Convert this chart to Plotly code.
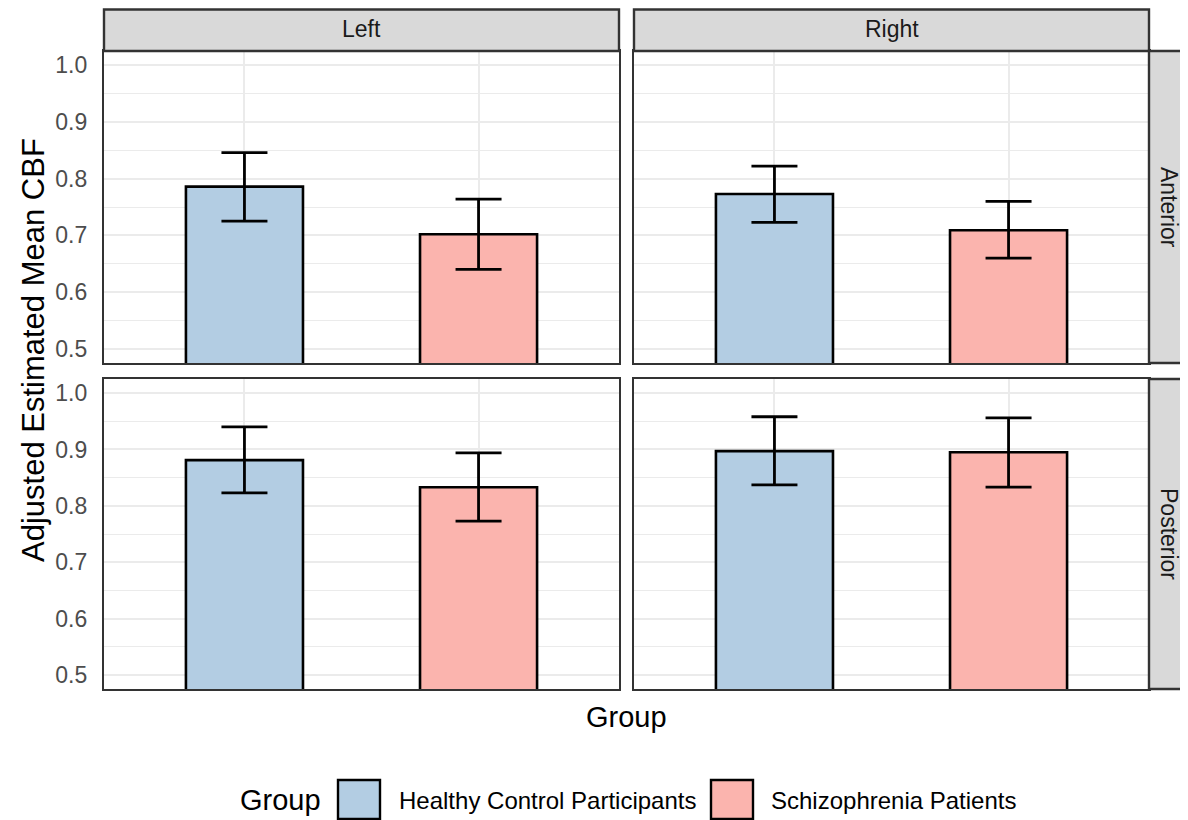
import plotly.graph_objects as go

# ---- data ----
groups = ["Healthy Control Participants", "Schizophrenia Patients"]
hemispheres = ["Left", "Right"]
regions = ["Anterior", "Posterior"]
# panel order: Anterior-Left, Anterior-Right, Posterior-Left, Posterior-Right
hc_mean = [0.786, 0.773, 0.881, 0.897]
hc_lower = [0.725, 0.723, 0.823, 0.837]
hc_upper = [0.846, 0.822, 0.940, 0.958]
sz_mean = [0.702, 0.709, 0.833, 0.895]
sz_lower = [0.640, 0.660, 0.773, 0.833]
sz_upper = [0.764, 0.760, 0.894, 0.956]

colors = ["#B3CDE3", "#FBB4AE"]

# page body has an 8px margin; build the figure in page coordinates shifted by it
OFF = 8
W, H = 1188 - OFF, 820 - OFF
FONT = "Liberation Sans, Arial, Helvetica, sans-serif"


def px(x):
    return (x - OFF) / W


def py(y):
    return 1 - (y - OFF) / H


col_dom = [(104, 619), (634, 1149)]
row_dom = [(51, 363), (379, 689)]

fig = go.Figure()

series = [
    (groups[0], hc_mean, hc_lower, hc_upper, colors[0]),
    (groups[1], sz_mean, sz_lower, sz_upper, colors[1]),
]

for p in range(4):
    r, c = divmod(p, 2)
    sfx = "" if p == 0 else str(p + 1)
    for name, m, lo, hi, col in series:
        fig.add_trace(go.Bar(
            x=[name], y=[m[p]], width=0.5,
            marker=dict(color=col, line=dict(color="black", width=2.6)),
            error_y=dict(type="data", symmetric=False,
                         array=[hi[p] - m[p]], arrayminus=[m[p] - lo[p]],
                         color="black", thickness=2.8, width=23),
            xaxis="x" + sfx, yaxis="y" + sfx, showlegend=False, name=name,
        ))
    x0, x1 = col_dom[c]
    y0, y1 = row_dom[r]
    fig.layout["xaxis" + sfx] = dict(
        domain=[px(x0), px(x1)], anchor="y" + sfx, type="category",
        categoryorder="array", categoryarray=groups, range=[-0.6, 1.6],
        showticklabels=False, ticks="", showgrid=True, gridcolor="#EBEBEB",
        gridwidth=1.6, showline=True, mirror=True, linecolor="#333333",
        linewidth=2.4, zeroline=False, fixedrange=True, automargin=False,
    )
    fig.layout["yaxis" + sfx] = dict(
        domain=[py(y1), py(y0)], anchor="x" + sfx, range=[0.475, 1.025],
        tick0=0, dtick=0.1, tickformat=".1f", showticklabels=(c == 0),
        tickfont=dict(family=FONT, size=23, color="#4D4D4D"), ticks="",
        ticklabelstandoff=10,
        showgrid=True, gridcolor="#EBEBEB", gridwidth=1.6,
        minor=dict(tick0=0, dtick=0.05, showgrid=True, gridcolor="#EBEBEB",
                   gridwidth=0.8),
        showline=True, mirror=True, linecolor="#333333", linewidth=2.4,
        zeroline=False, fixedrange=True, automargin=False,
    )

shapes = []
annotations = []


def label(text, x, y, size, color="black", angle=0, xanchor="center"):
    annotations.append(dict(text=text, xref="paper", yref="paper",
                            x=px(x), y=py(y), xanchor=xanchor, yanchor="middle",
                            showarrow=False, textangle=angle,
                            font=dict(family=FONT, size=size, color=color)))


# top strips
for c, lab in enumerate(hemispheres):
    x0, x1 = col_dom[c]
    shapes.append(dict(type="rect", xref="paper", yref="paper",
                       x0=px(x0), x1=px(x1), y0=py(51), y1=py(9.5),
                       fillcolor="#D9D9D9", line=dict(color="#333333", width=2.4)))
    label(lab, (x0 + x1) / 2, 29, 23, "#1A1A1A")
# right strips
for r, lab in enumerate(regions):
    y0, y1 = row_dom[r]
    shapes.append(dict(type="rect", xref="paper", yref="paper",
                       x0=px(1149), x1=px(1194), y0=py(y1), y1=py(y0),
                       fillcolor="#D9D9D9", line=dict(color="#333333", width=2.4)))
    label(lab, 1169, (y0 + y1) / 2, 23, "#1A1A1A", angle=90)

# axis titles
label("Adjusted Estimated Mean CBF", 33, 350, 31, angle=-90)
label("Group", 626, 717, 29)

# legend (drawn manually to match ggplot key sizes)
label("Group", 238, 800, 29, xanchor="left")
for (kx, tx), g, col in zip([(338, 397), (711, 769)], groups, colors):
    shapes.append(dict(type="rect", xref="paper", yref="paper",
                       x0=px(kx), x1=px(kx + 42), y0=py(819), y1=py(780),
                       fillcolor=col, line=dict(color="black", width=2.4)))
    label(g, tx, 800, 24, xanchor="left")

fig.update_layout(
    width=W, height=H, margin=dict(l=0, r=0, t=0, b=0, autoexpand=False),
    paper_bgcolor="white", plot_bgcolor="white", barmode="overlay",
    shapes=shapes, annotations=annotations, showlegend=False,
    font=dict(family=FONT),
)

fig.write_html("out.html")
